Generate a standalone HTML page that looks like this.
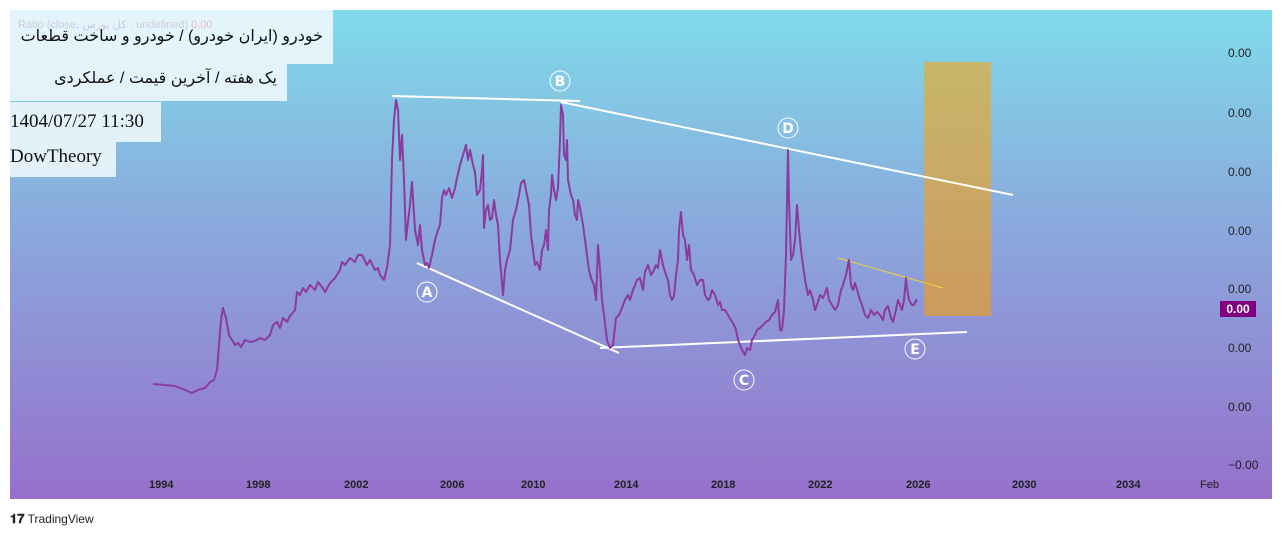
<!DOCTYPE html>
<html><head><meta charset="utf-8"><style>
body{margin:0;width:1282px;height:535px;background:#fff;position:relative;overflow:hidden;font-family:"Liberation Sans","Noto Sans CJK SC",sans-serif}
#chart{position:absolute;left:10px;top:10px;width:1262px;height:489px;background:linear-gradient(#80dbea,#8aa8dc 45%,#9670cc);}
.box{position:absolute;left:10px;background:rgba(240,248,252,0.88);font-family:"Liberation Serif","DejaVu Serif",serif;font-size:19px;color:#111;padding-left:0px;white-space:nowrap}
.yl{position:absolute;left:1228px;font-size:12px;color:#222}
.xl{position:absolute;top:479px;font-size:11px;font-weight:bold;color:#222}
</style></head><body>
<div id="chart"></div>
<svg style="position:absolute;left:0;top:0" width="1282" height="535">
<defs><linearGradient id="og" x1="0" y1="0" x2="0" y2="1"><stop offset="0" stop-color="#c8b66a"/><stop offset="1" stop-color="#cc9a5e"/></linearGradient></defs>
<rect x="924" y="62" width="67" height="254" fill="url(#og)"/>
<g stroke="#fff" stroke-width="2" fill="none">
<line x1="392" y1="96" x2="580" y2="101"/>
<line x1="561" y1="102" x2="1013" y2="195"/>
<line x1="417" y1="263" x2="619" y2="353"/>
<line x1="600" y1="348" x2="967" y2="332"/>
</g>
<line x1="838" y1="258" x2="943" y2="288" stroke="#f2d13a" stroke-width="1"/>
<polyline fill="none" stroke="#8b3aa0" stroke-width="2" stroke-linejoin="round" points="153,384 165,385 175,386 185,390 192,393 198,390 205,388 210,382 214,380 217,370 219,345 221,320 223,308 226,318 229,335 232,340 235,345 238,343 241,347 245,340 250,342 255,341 260,338 265,340 270,335 273,325 277,322 280,328 283,318 287,322 290,316 295,310 297,292 300,295 303,288 306,292 310,285 315,290 318,282 322,287 325,292 330,283 335,278 340,270 342,262 345,265 350,258 355,262 358,255 362,255 367,265 370,260 375,270 378,268 380,275 384,280 387,268 390,245 392,160 394,120 396,100 398,110 400,160 402,135 404,180 406,240 407,230 410,205 412,182 415,230 418,245 420,225 422,250 425,265 427,263 429,268 432,255 435,240 438,230 440,225 442,198 444,190 446,195 449,188 452,198 455,188 457,178 460,165 463,155 466,145 468,160 470,150 473,165 475,172 477,195 480,190 482,170 483,155 484,228 486,210 488,205 490,220 492,218 494,200 496,215 498,225 500,260 503,295 505,270 507,260 510,250 513,220 516,210 519,195 521,183 524,180 527,195 529,205 531,235 533,250 535,265 537,262 540,270 542,250 544,245 546,230 548,250 549,210 551,195 552,175 554,190 556,200 558,188 560,140 561,105 563,115 564,155 566,160 567,140 568,180 571,195 573,200 575,215 577,220 578,200 580,208 583,225 585,240 587,255 589,270 591,278 594,285 596,300 598,245 600,270 602,300 604,315 607,340 610,348 613,345 616,318 619,315 622,308 625,300 628,295 630,300 633,290 635,285 637,280 640,278 643,290 645,272 648,265 651,275 653,272 656,265 658,268 660,250 663,265 666,275 668,280 670,295 672,300 674,296 676,275 678,260 679,230 681,212 683,235 685,240 687,260 689,245 691,270 694,275 697,285 700,280 703,280 705,295 708,300 710,298 712,290 715,295 718,305 720,302 722,310 725,310 728,315 731,320 734,325 736,330 738,340 740,345 742,350 745,355 747,348 750,350 752,340 755,335 757,330 760,328 763,325 766,322 769,320 772,315 775,312 778,300 780,330 782,330 784,310 786,255 788,150 789,200 791,260 793,255 795,240 797,205 799,230 801,250 803,265 805,280 808,295 810,290 813,300 815,310 817,305 820,295 823,298 825,293 827,288 829,300 832,305 835,310 838,305 841,290 843,285 846,275 848,265 849,260 851,285 853,290 855,283 858,293 860,300 862,305 865,315 868,318 871,310 874,315 877,312 880,315 883,320 885,310 888,306 891,318 893,322 896,310 898,300 900,305 902,310 904,300 906,278 907,288 909,300 912,305 914,305 916,300 917,302"/>
<g fill="none" stroke="#fff" stroke-width="1"><circle cx="427" cy="292" r="10"/><circle cx="560" cy="81" r="10"/><circle cx="744" cy="380" r="10"/><circle cx="788" cy="128" r="10"/><circle cx="915" cy="349" r="10"/></g>
<g fill="#fff" font-family="DejaVu Sans,sans-serif" font-size="14" font-weight="bold" text-anchor="middle"><text x="427" y="297">A</text><text x="560" y="86">B</text><text x="744" y="385">C</text><text x="788" y="133">D</text><text x="915" y="354">E</text></g>
</svg>
<div class="box" style="top:10px;width:323px;height:54px"><div style="font-size:11px;color:#d0c8e0;font-family:'Liberation Sans',sans-serif;padding:8px 0 0 8px;position:absolute">Ratio (close, کل بورس · undefined) <span style="color:#e9b8d8">0.00</span></div><div style="position:absolute;top:16px;right:10px;font-family:'Liberation Sans','DejaVu Sans',sans-serif;font-size:16px">خودرو (ایران خودرو) / خودرو و ساخت قطعات</div></div>
<div class="box" style="top:64px;width:277px;height:37px"><div style="position:absolute;top:4px;right:10px;font-family:'Liberation Sans','DejaVu Sans',sans-serif;font-size:16px">یک هفته / آخرین قیمت / عملکردی</div></div>
<div class="box" style="top:102px;width:151px;height:40px;line-height:40px">1404/07/27 11:30</div>
<div class="box" style="top:142px;width:106px;height:35px;line-height:30px">DowTheory</div>
<div class="yl" style="top:46px">0.00</div><div class="yl" style="top:106px">0.00</div><div class="yl" style="top:165px">0.00</div><div class="yl" style="top:224px">0.00</div><div class="yl" style="top:282px">0.00</div><div class="yl" style="top:341px">0.00</div><div class="yl" style="top:400px">0.00</div><div class="yl" style="top:458px">−0.00</div>
<div style="position:absolute;left:1220px;top:301px;width:36px;height:16px;background:#800080;color:#fff;font-size:12px;font-weight:bold;text-align:center;line-height:16px">0.00</div>
<div class="xl" style="left:149px">1994</div><div class="xl" style="left:246px">1998</div><div class="xl" style="left:344px">2002</div><div class="xl" style="left:440px">2006</div><div class="xl" style="left:521px">2010</div><div class="xl" style="left:614px">2014</div><div class="xl" style="left:711px">2018</div><div class="xl" style="left:808px">2022</div><div class="xl" style="left:906px">2026</div><div class="xl" style="left:1012px">2030</div><div class="xl" style="left:1116px">2034</div><div class="xl" style="left:1200px;font-weight:normal">Feb</div>
<div style="position:absolute;left:10px;top:511px;font-size:12px;color:#222"><b style="font-size:13px">𝟏𝟕</b> TradingView</div>
</body></html>
